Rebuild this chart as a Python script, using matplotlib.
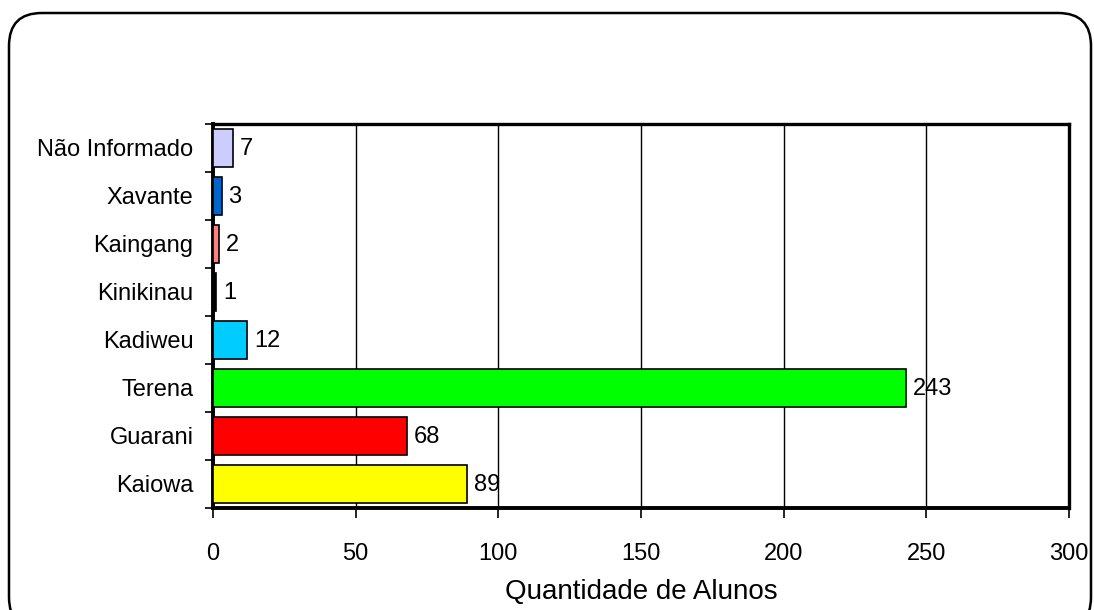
import matplotlib.pyplot as plt
from matplotlib.patches import FancyBboxPatch

plt.rcParams['font.family'] = ['Liberation Sans', 'DejaVu Sans']

grupos = ['Kaiowa', 'Guarani', 'Terena', 'Kadiweu', 'Kinikinau', 'Kaingang', 'Xavante', 'Não Informado']
alunos = [89, 68, 243, 12, 1, 2, 3, 7]
cores = ['#FFFF00', '#FF0000', '#00FF00', '#00CCFF', '#000000', '#FF8080', '#0066CC', '#CCCCFF']
xticks = [0, 50, 100, 150, 200, 250, 300]

fig = plt.figure(figsize=(10.94, 6.10), dpi=100)
fig.patches.append(FancyBboxPatch((9 / 1094, -20 / 610), 1082 / 1094, 617 / 610,
                                  boxstyle='round,pad=0,rounding_size=0.03',
                                  transform=fig.transFigure, fill=False,
                                  edgecolor='black', linewidth=1.8,
                                  mutation_aspect=1094 / 610))

ax = fig.add_axes([213 / 1094, 1 - 508 / 610, (1069 - 213) / 1094, (508 - 124) / 610])
y = range(len(grupos))
ax.barh(y, alunos, height=0.81, color=cores, edgecolor='black', linewidth=1.2, zorder=3)
for i, v in enumerate(alunos):
    ax.annotate(str(v), (v, i), xytext=(5, -1), textcoords='offset points',
                va='center', ha='left', fontsize=17, zorder=4)

ax.set_xlim(0, 300)
ax.set_ylim(-0.5, len(grupos) - 0.5)
ax.set_xticks(xticks)
ax.set_xticklabels([str(t) for t in xticks], fontsize=17)
ax.set_yticks([i - 0.5 for i in range(len(grupos) + 1)], minor=False)
ax.set_yticklabels([])
ax.set_yticks(list(y), minor=True)
ax.set_yticklabels(grupos, minor=True, fontsize=17)
ax.tick_params(axis='y', which='minor', length=0, pad=14)
ax.tick_params(axis='y', which='major', length=6, width=1.2)
ax.tick_params(axis='x', length=7, width=1.2, pad=18)
ax.xaxis.grid(True, color='black', linewidth=1.0, zorder=0)
for s in ['left', 'bottom']:
    ax.spines[s].set_linewidth(2.8)
for s in ['top', 'right']:
    ax.spines[s].set_linewidth(2.4)
ax.set_xlabel('Quantidade de Alunos', fontsize=20, labelpad=10)

fig.savefig('out.png', dpi=100)
